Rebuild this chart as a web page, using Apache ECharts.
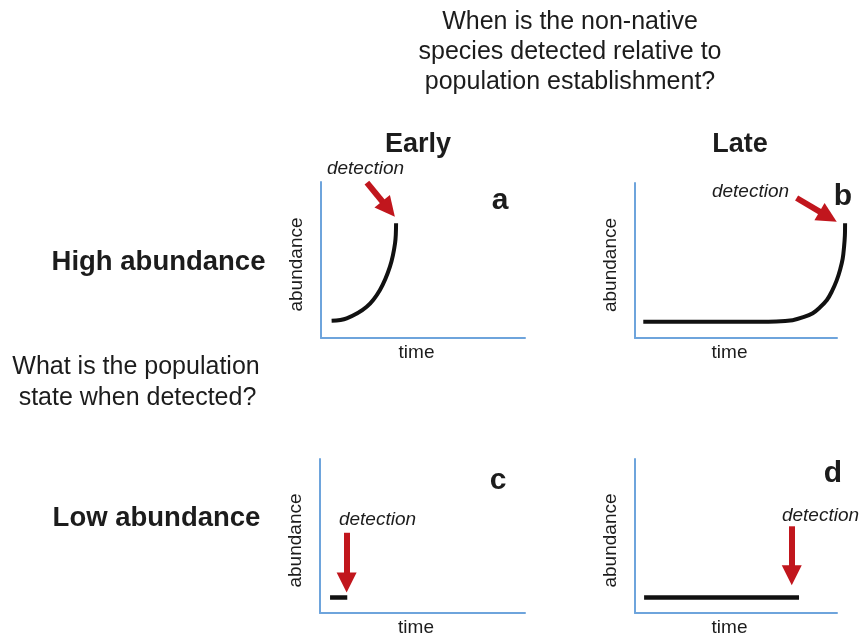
<!DOCTYPE html>
<html>
<head>
<meta charset="utf-8">
<script src="https://cdn.jsdelivr.net/npm/echarts@6/dist/echarts.min.js"></script>
<style>
html,body{margin:0;padding:0;background:#fff;}
#chart{width:861px;height:638px;}
</style>
</head>
<body>
<div id="chart"></div>
<script>
// ---- data (time, abundance), axis range 0..10 ----
const titleLines = ['When is the non-native', 'species detected relative to', 'population establishment?'];
const columnLabels = ['Early', 'Late'];
const rowLabels = ['High abundance', 'Low abundance'];
const sideQuestion = ['What is the population', 'state when detected?'];
const panelLetters = ['a', 'b', 'c', 'd'];
const xAxisName = 'time';
const yAxisName = 'abundance';
const arrowText = 'detection';

const curveA = [[0.52,1.11],[1.26,1.26],[2.24,2.0],[2.89,3.08],[3.38,4.57],[3.63,6.07],[3.68,7.35]];
const curveB = [[0.41,1.05],[2.5,1.05],[5.0,1.05],[7.0,1.07],[7.8,1.15],[8.33,1.34],[8.8,1.6],[9.16,1.98],[9.5,2.45],[9.74,2.99],[9.98,3.7],[10.15,4.39],[10.28,5.1],[10.35,5.89],[10.39,6.6],[10.40,7.40]];
const lineC = [[0.49,1.01],[1.33,1.01]];
const lineD = [[0.45,1.01],[8.12,1.01]];

const arrowA = [[2.25,9.96],[3.31,8.27]];
const arrowB = [[8.0,9.03],[9.56,7.83]];
const arrowC = [[1.30,5.21],[1.30,1.98]];
const arrowD = [[7.76,5.63],[7.76,2.45]];

// ---- styling ----
const FONT = "'Liberation Sans', Arial, Helvetica, sans-serif";
const TXT = '#1c1c1c';
const AXIS_BLUE = '#6ea4dc';
const RED = '#c1161d';

const grids = [
  {left: 321, top: 182, width: 204, height: 156},
  {left: 635, top: 183, width: 202, height: 155},
  {left: 320, top: 459, width: 205, height: 155},
  {left: 635, top: 459, width: 202, height: 155},
  // same scale as panel b, extended to the right so the curve's tip beyond the axis end is kept
  {left: 635, top: 183, width: 212.1, height: 155}
];

function xAx(i){
  return {
    gridIndex: i, type: 'value', min: 0, max: 10,
    axisLine: {show: true, onZero: false, lineStyle: {color: AXIS_BLUE, width: 2}},
    axisTick: {show: false}, axisLabel: {show: false}, splitLine: {show: false},
    name: xAxisName, nameLocation: 'middle', nameGap: 5,
    nameTextStyle: {fontFamily: FONT, fontSize: 19, color: TXT, verticalAlign: 'top', padding: [0, 13, 0, 0]}
  };
}
function yAx(i){
  return {
    gridIndex: i, type: 'value', min: 0, max: 10,
    axisLine: {show: true, onZero: false, lineStyle: {color: AXIS_BLUE, width: 2}},
    axisTick: {show: false}, axisLabel: {show: false}, splitLine: {show: false},
    name: yAxisName, nameLocation: 'middle', nameGap: 15,
    nameTextStyle: {fontFamily: FONT, fontSize: 19, color: TXT, padding: [0, 9, 0, 0]}
  };
}
const xAxes = [0,1,2,3].map(xAx);
const yAxes = [0,1,2,3].map(yAx);
xAxes.push({gridIndex: 4, type: 'value', min: 0, max: 10.5, show: false});
yAxes.push({gridIndex: 4, type: 'value', min: 0, max: 10, show: false});

function curve(i, data, w){
  return {
    type: 'line', xAxisIndex: i, yAxisIndex: i, data: data,
    smooth: 0.35, showSymbol: false, symbol: 'none', clip: false,
    lineStyle: {color: '#111', width: w, cap: 'butt'}, silent: true, animation: false
  };
}
function arrow(i, coords){
  return {
    type: 'lines', coordinateSystem: 'cartesian2d', xAxisIndex: i, yAxisIndex: i,
    symbol: ['none', 'triangle'], symbolSize: [19, 20], clip: false,
    lineStyle: {color: RED, width: 6, opacity: 1, curveness: 0},
    itemStyle: {color: RED},
    data: [{coords: coords}], silent: true, animation: false
  };
}

function txt(x, y, s, size, weight, style){
  return {
    type: 'text', x: x, y: y,
    style: {text: s, fontFamily: FONT, fontSize: size, fontWeight: weight || 'normal',
            fontStyle: style || 'normal', fill: TXT, align: 'center', verticalAlign: 'middle'}
  };
}

const graphics = [
  txt(570, 21.7, titleLines[0], 25),
  txt(570, 51.7, titleLines[1], 25),
  txt(570, 81.7, titleLines[2], 25),
  txt(418, 145, columnLabels[0], 27, 'bold'),
  txt(740, 145, columnLabels[1], 27, 'bold'),
  txt(158.5, 262, rowLabels[0], 27.5, 'bold'),
  txt(156.5, 518, rowLabels[1], 27.5, 'bold'),
  txt(136, 367, sideQuestion[0], 25),
  txt(137.5, 398, sideQuestion[1], 25),
  txt(500, 201, panelLetters[0], 30, 'bold'),
  txt(843, 197, panelLetters[1], 30, 'bold'),
  txt(498, 481, panelLetters[2], 30, 'bold'),
  txt(833, 474, panelLetters[3], 30, 'bold'),
  txt(365.5, 169, arrowText, 19, 'normal', 'italic'),
  txt(750.5, 191.7, arrowText, 19, 'normal', 'italic'),
  txt(377.5, 519.3, arrowText, 19, 'normal', 'italic'),
  txt(820.5, 516, arrowText, 19, 'normal', 'italic')
];

const chart = echarts.init(document.getElementById('chart'), null, {renderer: 'canvas'});
chart.setOption({
  backgroundColor: '#ffffff',
  animation: false,
  grid: grids,
  xAxis: xAxes,
  yAxis: yAxes,
  series: [
    curve(0, curveA, 4),
    curve(4, curveB, 4),
    curve(2, lineC, 4.5),
    curve(3, lineD, 4.5),
    arrow(0, arrowA),
    arrow(1, arrowB),
    arrow(2, arrowC),
    arrow(3, arrowD)
  ],
  graphic: graphics
});
</script>
</body>
</html>
